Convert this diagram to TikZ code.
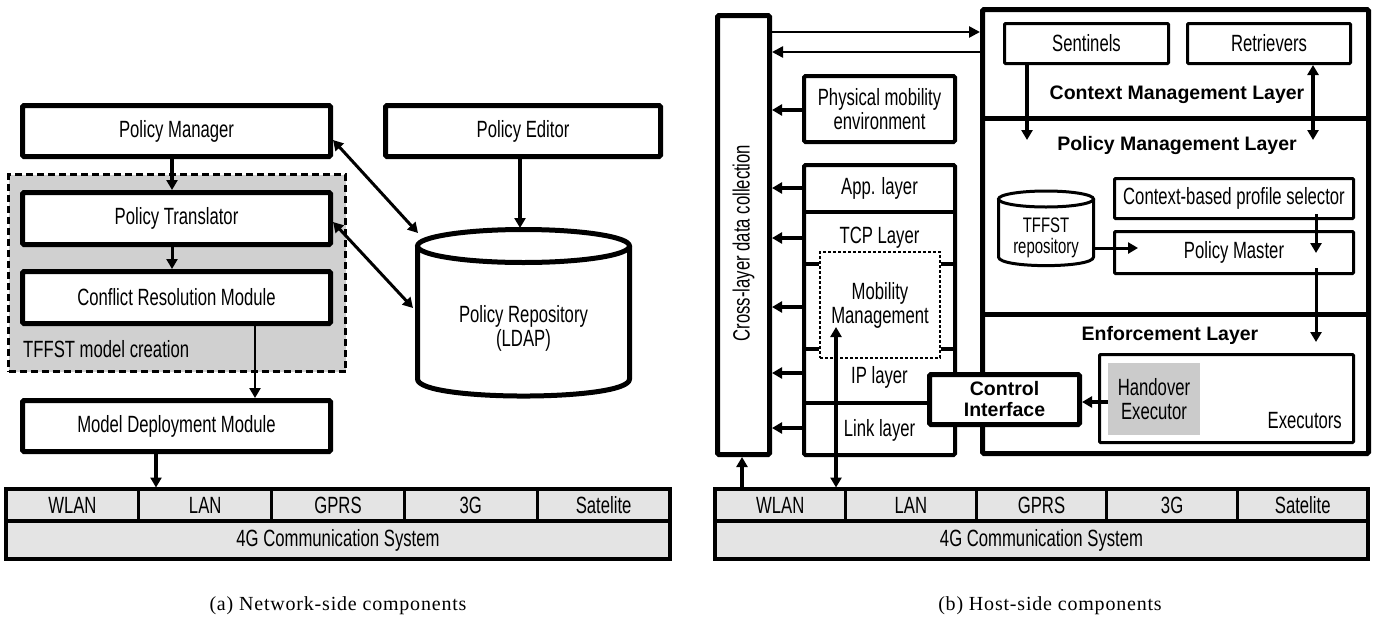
\documentclass[tikz,border=0pt]{standalone}
\usepackage{fontspec}
\setmainfont{Liberation Sans}[FakeStretch=0.71]
\newfontfamily\wfont{Liberation Sans}
\newfontfamily\capfont{Liberation Serif}[LetterSpace=4]
\usetikzlibrary{arrows.meta,calc}
\definecolor{regiongray}{HTML}{D0D0D0}
\definecolor{busgray}{HTML}{E4E4E4}
\definecolor{hogray}{HTML}{CBCBCB}
\newcommand\nf{\fontsize{23.5}{24}\selectfont}
\newcommand\bfnt{\wfont\bfseries\fontsize{19.5}{22}\selectfont}
\begin{document}
\begin{tikzpicture}[x=1pt,y=-1pt,
  every node/.style={font=\nf, align=center, inner sep=0pt},
  tb/.style={draw, line width=5pt, fill=white, rounded corners=1.5pt},
  mb/.style={draw, line width=4pt, fill=white, rounded corners=1.5pt},
  sb/.style={draw, line width=3pt, fill=white, rounded corners=1pt},
  dregion/.style={draw, line width=3pt, fill=regiongray, dash pattern=on 7pt off 4pt},
  cell/.style={draw, line width=3pt, fill=busgray},
  tip/.tip={Triangle[length=10pt,width=11pt]},
  arr/.style={line width=4pt, -tip},
  arrm/.style={line width=3pt, -tip},
  darr/.style={line width=3pt, tip-tip},
  tarr/.style={line width=2.5pt, -{Triangle[length=11pt,width=11pt]}},
  bl/.style={font=\bfnt},
  capstyle/.style={font=\capfont\fontsize{20}{22}\selectfont}]
\useasboundingbox (0,0) rectangle (1380,627);

% ---------------- left panel ----------------
\node[dregion, minimum width=337, minimum height=197] (tffst) at (177,273) {};
\node[tb, minimum width=308, minimum height=51] (pm) at (176.5,131) {Policy Manager};
\node[tb, minimum width=308, minimum height=52] (pt) at (176.5,218.5) {Policy Translator};
\node[tb, minimum width=308, minimum height=52] (crm) at (176.5,297.5) {Conflict Resolution Module};
\node[anchor=west] (tlabel) at (23,349) {TFFST model creation};
\node[tb, minimum width=308, minimum height=51] (mdm) at (176.5,426) {Model Deployment Module};
\node[tb, minimum width=275, minimum height=51] (pe) at (523,131) {Policy Editor};

% cylinder: Policy Repository
\draw[line width=5pt, fill=white] (417.5,246) -- (417.5,379)
  .. controls (417.5,401.7) and (629.5,401.7) .. (629.5,379) -- (629.5,246);
\draw[line width=5pt, fill=white] (523.5,246) ellipse [x radius=106, y radius=16.5];
\node (repo) at (523.5,328) {Policy Repository\\(LDAP)};
\coordinate (repoTop) at (520,228);
\coordinate (repoA) at (418,233);
\coordinate (repoB) at (413,308);

% bus bar left
\node[cell, minimum width=132.8, minimum height=32] (lw1) at (72.4,505) {WLAN};
\node[cell, minimum width=132.8, minimum height=32] (lw2) at (205.2,505) {LAN};
\node[cell, minimum width=132.8, minimum height=32] (lw3) at (338,505) {GPRS};
\node[cell, minimum width=132.8, minimum height=32] (lw4) at (470.8,505) {3G};
\node[cell, minimum width=132.8, minimum height=32] (lw5) at (603.6,505) {Satelite};
\node[cell, line width=4pt, minimum width=664, minimum height=38] (l4g) at (338,540) {4G Communication System};
\draw[line width=4.5pt] (6,489) rectangle (670,559);

% left arrows
\coordinate (xa) at (172,0);
\coordinate (xb) at (255,0);
\coordinate (xc) at (156,0);
\coordinate (xd) at (520,0);
\coordinate (ya) at (0,140);
\coordinate (yb) at (0,222);
\draw[arr] (pm.south -| xa) -- (pt.north -| xa);
\draw[arrm] (pt.south -| xa) -- (crm.north -| xa);
\draw[line width=2.5pt, -tip] (crm.south -| xb) -- (mdm.north -| xb);
\draw[arr] (mdm.south -| xc) -- (lw2.north -| xc);
\draw[arr] (pe.south -| xd) -- (repoTop);
\draw[darr] (pm.east |- ya) -- (repoA);
\draw[darr] (pt.east |- yb) -- (repoB);

% ---------------- right panel ----------------
\node[tb, minimum width=52, minimum height=439] (col) at (743.5,235) {};
\node[rotate=90] (coltext) at (743.5,243) {Cross-layer data collection};
\node[mb, minimum width=151, minimum height=66] (pme) at (879.5,109) {Physical mobility\\environment};
\node[mb, minimum width=151, minimum height=290] (stk) at (879.5,310) {};
\node[tb, minimum width=386, minimum height=444] (big) at (1175.5,231.5) {};

\coordinate (y32) at (0,32);
\coordinate (y52) at (0,52);
\coordinate (y110) at (0,110);
\coordinate (y188) at (0,188);
\coordinate (y212) at (0,212);
\coordinate (y238) at (0,238);
\coordinate (y264) at (0,264);
\coordinate (y307) at (0,307);
\coordinate (y349) at (0,349);
\coordinate (y373) at (0,373);
\coordinate (y403) at (0,403);
\coordinate (y428) at (0,428);
\coordinate (y118) at (0,118);
\coordinate (y314) at (0,314);
\coordinate (y402) at (0,402);

% stack content
\draw[line width=3.5pt] (stk.west |- y212) -- (stk.east |- y212);
\node (app) at (879.5,188) {App. layer};
\node (tcp) at (879.5,238) {TCP Layer};
\node[draw, line width=1.1pt, dash pattern=on 3pt off 2pt, minimum width=120, minimum height=106] (mob) at (880,305) {Mobility\\Management};
\draw[line width=3.5pt] (stk.west |- y264) -- (mob.west |- y264);
\draw[line width=3.5pt] (mob.east |- y264) -- (stk.east |- y264);
\draw[line width=3.5pt] (stk.west |- y349) -- (mob.west |- y349);
\draw[line width=3.5pt] (mob.east |- y349) -- (stk.east |- y349);
\node (ipl) at (879.5,377) {IP layer};
\node (lnk) at (879.5,430) {Link layer};

% big box separators
\draw[line width=5pt] (big.west |- y118) -- (big.east |- y118);
\draw[line width=5pt] (big.west |- y314) -- (big.east |- y314);

% control interface
\node[tb, minimum width=150, minimum height=50, font=\bfnt, align=center] (ci) at (1004.5,399.5) {Control\\[-1pt]Interface};
\draw[line width=3.5pt] (stk.west |- y403) -- (ci.west |- y403);

% arrows to column
\draw[tarr] (col.east |- y32) -- (big.west |- y32);
\draw[tarr] (big.west |- y52) -- (col.east |- y52);
\draw[arr] (pme.west |- y110) -- (col.east |- y110);
\draw[arr] (stk.west |- y188) -- (col.east |- y188);
\draw[arr] (stk.west |- y238) -- (col.east |- y238);
\draw[arr] (stk.west |- y307) -- (col.east |- y307);
\draw[arr] (stk.west |- y373) -- (col.east |- y373);
\draw[arr] (stk.west |- y428) -- (col.east |- y428);

% context management layer
\node[sb, minimum width=164, minimum height=40] (sen) at (1086.5,43.5) {Sentinels};
\node[sb, minimum width=163, minimum height=40] (ret) at (1269,43.5) {Retrievers};
\node[bl] (cml) at (1177,95) {Context Management Layer};
\node[bl] (pml) at (1177,145) {Policy Management Layer};
\coordinate (s1) at (1027,140);
\coordinate (r1) at (1313,140);
\draw[line width=3.5pt, -tip] (sen.south -| s1) -- (s1);
\draw[darr, line width=3.5pt] (ret.south -| r1) -- (r1);

% TFFST repository cylinder
\draw[line width=3pt, fill=white] (998.5,199) -- (998.5,257)
  .. controls (998.5,268.5) and (1093.5,268.5) .. (1093.5,257) -- (1093.5,199);
\draw[line width=3pt, fill=white] (1046,199) ellipse [x radius=47.5, y radius=8];
\node[font=\fontsize{21}{21}\selectfont] (tfr) at (1046,238) {TFFST\\repository};
\coordinate (tfE) at (1094,248);

\node[sb, minimum width=239, minimum height=40] (sel) at (1234,198.5) {Context-based profile selector};
\node[sb, minimum width=239, minimum height=42] (pmas) at (1234,252.5) {Policy Master};
\coordinate (pmIn) at (1138,248);
\draw[arrm] (tfE) -- (pmIn);
\coordinate (q1) at (1316,214);
\coordinate (q2) at (1316,253);
\coordinate (q3) at (1316,268);
\coordinate (q4) at (1316,342);
\draw[arrm] (q1) -- (q2);
\draw[arrm] (q3) -- (q4);

% enforcement layer
\node[bl] (eml) at (1170,335) {Enforcement Layer};
\node[sb, minimum width=254, minimum height=88] (exe) at (1226.5,398.5) {};
\node[fill=hogray, minimum width=92, minimum height=72] (ho) at (1154,399) {Handover\\Executor};
\node[anchor=east] (exel) at (1342,421) {Executors};
\draw[arr] (ho.west |- y402) -- (ci.east |- y402);

% bus bar right
\node[cell, minimum width=130.6, minimum height=32] (rw1) at (780.3,505) {WLAN};
\node[cell, minimum width=130.6, minimum height=32] (rw2) at (910.9,505) {LAN};
\node[cell, minimum width=130.6, minimum height=32] (rw3) at (1041.5,505) {GPRS};
\node[cell, minimum width=130.6, minimum height=32] (rw4) at (1172.1,505) {3G};
\node[cell, minimum width=130.6, minimum height=32] (rw5) at (1302.7,505) {Satelite};
\node[cell, line width=4pt, minimum width=653, minimum height=38] (r4g) at (1041.5,540) {4G Communication System};
\draw[line width=4.5pt] (715,489) rectangle (1368,559);

\coordinate (mtop) at (836,327);
\coordinate (x742) at (742,0);
\draw[darr, line width=3.5pt] (mtop) -- (rw1.north -| mtop);
\draw[arr] (rw1.north -| x742) -- (col.south -| x742);

% captions
\node[capstyle] (capa) at (338,606) {(a) Network-side components};
\node[capstyle] (capb) at (1050,606) {(b) Host-side components};
\end{tikzpicture}
\end{document}
